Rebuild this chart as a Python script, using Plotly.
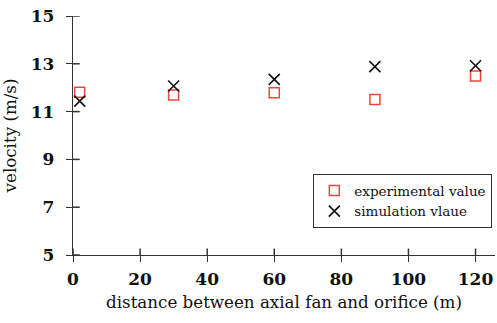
import plotly.graph_objects as go

# distance between the axial fan and the orifice (m)
distance = [2, 30, 60, 90, 120]
# measured velocity (m/s)
experimental = [11.81, 11.69, 11.79, 11.51, 12.49]
# simulated velocity (m/s)
simulation = [11.44, 12.07, 12.35, 12.88, 12.92]

x_ticks = [0, 20, 40, 60, 80, 100, 120]
y_ticks = [5, 7, 9, 11, 13, 15]
x_range = [0, 125.8]
y_range = [5, 15]

serif = "DejaVu Serif"
axis_col = "#333333"

fig = go.Figure()
fig.add_trace(go.Scatter(
    x=distance, y=experimental, mode="markers", name="experimental value",
    marker=dict(symbol="square-open", size=10, color="#e8483a",
                line=dict(width=1.5, color="#e8483a")),
))
fig.add_trace(go.Scatter(
    x=distance, y=simulation, mode="markers", name="simulation vlaue",
    marker=dict(symbol="x-thin-open", size=11, color="#111111",
                line=dict(width=1.6, color="#111111")),
))

common = dict(showgrid=False, zeroline=False, showline=True,
              linecolor=axis_col, linewidth=1.3, tickcolor=axis_col,
              tickwidth=1.3, ticklen=6, ticks="outside")

# inner half of the crossing tick marks, in paper units
tick_shapes = []
for t in x_ticks:
    tick_shapes.append(dict(type="line", xref="x", yref="paper", x0=t, x1=t,
                            y0=0, y1=0.027, layer="above",
                            line=dict(color=axis_col, width=1.5)))
for t in y_ticks:
    tick_shapes.append(dict(type="line", xref="paper", yref="y", y0=t, y1=t,
                            x0=0, x1=0.016, layer="above",
                            line=dict(color=axis_col, width=1.5)))

fig.update_layout(
    width=497, height=323,
    margin=dict(l=73, r=2, t=16, b=68),
    paper_bgcolor="white", plot_bgcolor="white",
    font=dict(family=serif, color="#111111"),
    xaxis=dict(range=x_range, tickvals=x_ticks,
               tickfont=dict(family=serif, size=17, weight="bold"),
               ticklabelstandoff=2,
               title=dict(text="distance between axial fan and orifice (m)",
                          font=dict(family=serif, size=16.7), standoff=8),
               **common),
    yaxis=dict(range=y_range, tickvals=y_ticks,
               tickfont=dict(family=serif, size=17, weight="bold"),
               ticklabelstandoff=8,
               title=dict(text="velocity (m/s)",
                          font=dict(family=serif, size=16.7), standoff=12),
               **common),
    shapes=tick_shapes,
    legend=dict(x=0.993, y=0.339, xanchor="right", yanchor="top",
                bordercolor="#333333", borderwidth=1.3, bgcolor="white",
                font=dict(family=serif, size=13.5), itemwidth=30,
                tracegroupgap=0),
    showlegend=True,
)

fig.write_html("out.html")
